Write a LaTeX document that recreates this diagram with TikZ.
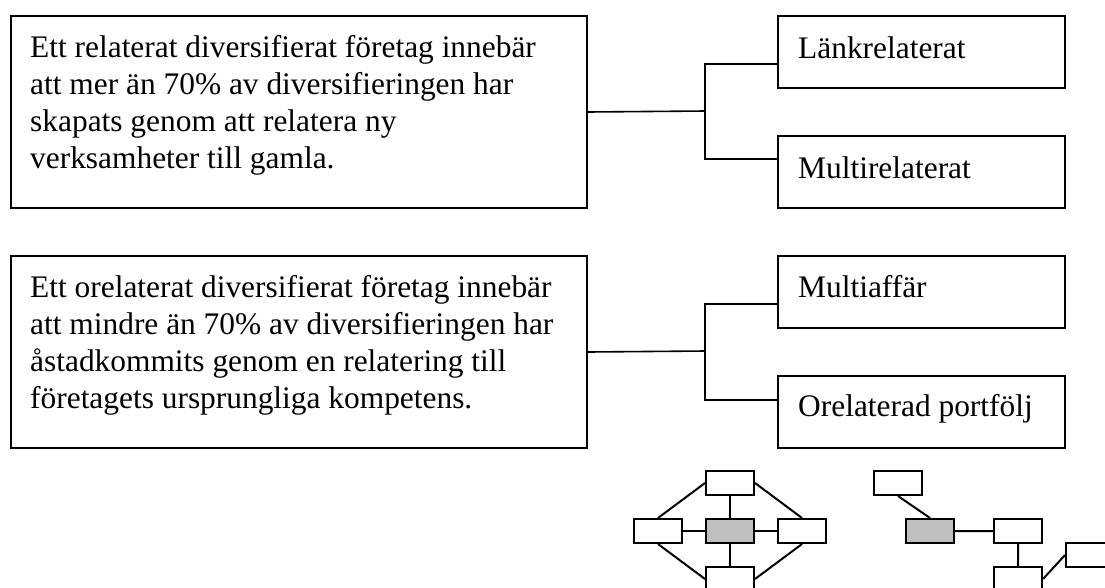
\documentclass[tikz,border=0pt]{standalone}
\usepackage{fontspec}
\setmainfont{Liberation Serif}
\begin{document}
\begin{tikzpicture}[x=1pt,y=-1pt,
  bigbox/.style={draw,line width=2pt,anchor=north west,minimum width=576pt,minimum height=192pt,inner sep=0pt},
  bigtext/.style={anchor=north west,inner sep=0pt,align=left,font=\fontsize{31.4}{37}\selectfont},
  smallbox/.style={draw,line width=2pt,anchor=north west,minimum width=287pt,minimum height=72pt,inner sep=0pt},
  label/.style={anchor=base west,inner sep=0pt,font=\fontsize{31.4}{37}\selectfont},
  conn/.style={line width=1.6pt},
  mini/.style={draw,line width=2pt,fill=white,minimum width=48pt,minimum height=24pt,inner sep=0pt},
  core/.style={mini,fill=gray!50},
  miniline/.style={line width=2pt}]
\useasboundingbox (0,0) rectangle (1105,587);
\clip (0,0) rectangle (1105,587);

% upper group: related diversification
\node[bigbox] (rel) at (10,15) {};
\node[bigtext] (reltext) at (30,35)
  {Ett relaterat diversifierat företag innebär\\
   att mer än 70\% av diversifieringen har\\
   skapats genom att relatera ny\\
   verksamheter till gamla.};
\node[smallbox] (link) at (777,15) {};
\node[label] (linktext) at (798,58) {Länkrelaterat};
\node[smallbox] (multi) at (777,135) {};
\node[label] (multitext) at (798,178) {Multirelaterat};
\coordinate (j1) at (705,111);
\draw[conn] (rel.east) -- (j1);
\draw[conn] (j1) |- ([yshift=-12pt]link.west);
\draw[conn] (j1) |- ([yshift=13pt]multi.west);

% lower group: unrelated diversification
\node[bigbox] (unrel) at (10,255) {};
\node[bigtext] (unreltext) at (30,275)
  {Ett orelaterat diversifierat företag innebär\\
   att mindre än 70\% av diversifieringen har\\
   åstadkommits genom en relatering till\\
   företagets ursprungliga kompetens.};
\node[smallbox] (aff) at (777,255) {};
\node[label] (afftext) at (798,297) {Multiaffär};
\node[smallbox] (port) at (777,375) {};
\node[label] (porttext) at (798,416) {Orelaterad portfölj};
\coordinate (j2) at (705,351);
\draw[conn] (unrel.east) -- (j2);
\draw[conn] (j2) |- ([yshift=-12pt]aff.west);
\draw[conn] (j2) |- ([yshift=12pt]port.west);

% mini diagram: linked network around a core
\node[mini] (ntop) at (730,483) {};
\node[mini] (nleft) at (658,531) {};
\node[core] (ncore) at (730,531) {};
\node[mini] (nright) at (802,531) {};
\node[mini] (nbot) at (730,579) {};
\draw[miniline] (ntop) -- (ncore) (nleft) -- (ncore) (ncore) -- (nright) (ncore) -- (nbot);
\draw[miniline] (ntop.west) -- (nleft.north) (ntop.east) -- (nright.north)
  (nleft.south) -- (nbot.west) (nright.south) -- (nbot.east);

% mini diagram: chain from a core
\node[mini] (ca) at (898,483) {};
\node[core] (ccore) at (930,531) {};
\node[mini] (cb) at (1018,531) {};
\node[mini] (cc) at (1018,579) {};
\node[mini] (cd) at (1090,555) {};
\draw[miniline] (ca.south) -- (ccore.north) (ccore) -- (cb) (cb) -- (cc) (cc.east) -- (cd.west);
\end{tikzpicture}
\end{document}
